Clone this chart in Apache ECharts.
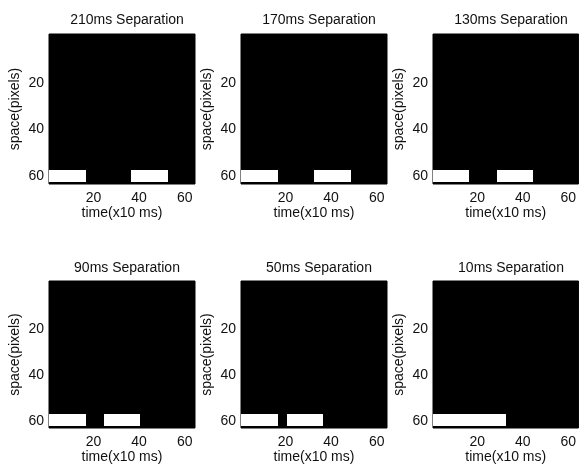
<!DOCTYPE html>
<html>
<head>
<meta charset="utf-8">
<script src="https://cdn.jsdelivr.net/npm/echarts@6/dist/echarts.min.js"></script>
<style>
html,body{margin:0;padding:0;background:#fff;}
#chart{width:579px;height:468px;}
</style>
</head>
<body>
<div id="chart"></div>
<script>
// ---- data ----
const panelTitles = ['210ms Separation', '170ms Separation', '130ms Separation',
                     '90ms Separation', '50ms Separation', '10ms Separation'];
// first stimulus (time, x10 ms), same for every panel
const bar1Start = [1, 1, 1, 1, 1, 1];
const bar1End   = [16, 16, 16, 16, 16, 16];
// second stimulus
const bar2Start = [37, 33, 29, 25, 21, 17];
const bar2End   = [52, 48, 44, 40, 36, 32];
// stimulus rows (space, pixels)
const barRowTop = 59;
const barRowBottom = 63;
const xTicks = [20, 40, 60];
const yTicks = [20, 40, 60];
const imageSize = 64;

// ---- layout ----
const FONT = 'Liberation Sans, Arial, sans-serif';
const colLeft = [49, 241, 433];
const rowTop = [34, 281];
const rowHeight = [150, 147];
const panelWidth = 146;

const grids = [], xAxes = [], yAxes = [], series = [], titles = [];
for (let i = 0; i < 6; i++) {
  const c = i % 3, r = Math.floor(i / 3);
  grids.push({
    left: colLeft[c], top: rowTop[r], width: panelWidth, height: rowHeight[r],
    show: true, backgroundColor: '#000', borderColor: '#000', borderWidth: 1,
    containLabel: false
  });
  xAxes.push({
    type: 'value', gridIndex: i, min: 0.5, max: imageSize + 0.5,
    name: 'time(x10 ms)', nameLocation: 'middle', nameGap: 21,
    nameTextStyle: { fontFamily: FONT, fontSize: 14, color: '#111' },
    axisLine: { show: false }, axisTick: { show: false },
    splitLine: { show: false },
    axisLabel: { customValues: xTicks, margin: 7, fontFamily: FONT, fontSize: 14, color: '#111' }
  });
  yAxes.push({
    type: 'value', gridIndex: i, min: 0.5, max: imageSize + 0.5, inverse: true,
    name: 'space(pixels)', nameLocation: 'middle', nameGap: 27,
    nameTextStyle: { fontFamily: FONT, fontSize: 14, color: '#111' },
    axisLine: { show: false }, axisTick: { show: false },
    splitLine: { show: false },
    axisLabel: {
      customValues: yTicks, margin: 5,
      formatter: function (v) { return '{a|' + v + '}'; },
      rich: { a: { padding: [6, 0, 0, 0], fontFamily: FONT, fontSize: 14, color: '#111' } },
      fontFamily: FONT, fontSize: 14, color: '#111'
    }
  });
  series.push({
    type: 'custom', xAxisIndex: i, yAxisIndex: i, silent: true,
    data: [
      [bar1Start[i] - 0.5, bar1End[i] + 0.5, barRowTop - 0.5, barRowBottom + 0.5],
      [bar2Start[i] - 0.5, bar2End[i] + 0.5, barRowTop - 0.5, barRowBottom + 0.5]
    ],
    renderItem: function (params, api) {
      const p0 = api.coord([api.value(0), api.value(2)]);
      const p1 = api.coord([api.value(1), api.value(3)]);
      const x0 = Math.round(Math.min(p0[0], p1[0]));
      const x1 = Math.round(Math.max(p0[0], p1[0]));
      const y0 = Math.round(Math.min(p0[1], p1[1]));
      const y1 = Math.round(Math.max(p0[1], p1[1]));
      return {
        type: 'rect',
        shape: { x: x0, y: y0, width: x1 - x0, height: y1 - y0 },
        style: { fill: '#fff' }
      };
    }
  });
  titles.push({
    text: panelTitles[i],
    left: colLeft[c] + panelWidth / 2, top: r === 0 ? 8 : 256,
    textAlign: 'center',
    textStyle: { fontFamily: FONT, fontSize: 14, fontWeight: 'normal', color: '#111' }
  });
}

const chart = echarts.init(document.getElementById('chart'), null, { renderer: 'canvas' });
chart.setOption({
  animation: false,
  backgroundColor: '#fff',
  title: titles,
  grid: grids,
  xAxis: xAxes,
  yAxis: yAxes,
  series: series
});
</script>
</body>
</html>
